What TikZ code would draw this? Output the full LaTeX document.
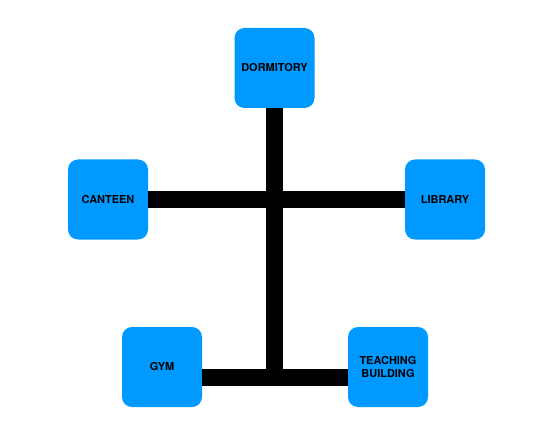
\documentclass[tikz,border=0pt]{standalone}
\usepackage{fontspec}
\setmainfont{TeX Gyre Heros}
\usepackage{tikz}
\usetikzlibrary{positioning}
\definecolor{placeblue}{RGB}{0,153,255}

\tikzset{
    place/.style={fill=placeblue, rounded corners=10bp, minimum width=80bp, minimum height=80bp,
        inner sep=0pt, align=center, font=\fontsize{11}{13.5}\selectfont\bfseries},
    road/.style={line width=17.5bp, black}
}

\begin{document}
\begin{tikzpicture}[x=1bp, y=-1bp]
    \useasboundingbox (0,0) rectangle (549,448);
    \node (dorm) [place] at (274.5,68) {DORMITORY};
    \node (canteen) [place] at (108,199.5) {CANTEEN};
    \node (library) [place] at (445,199.5) {LIBRARY};
    \node (gym) [place] at (162,367) {GYM};
    \node (teach) [place] at (388,367) {TEACHING\\BUILDING};
    % Junction of the lower road
    \coordinate (hub) at (274.5,377.5);
    \coordinate (base) at (274.5,386.25);
    % Roads
    \draw [road] (dorm.south) -- (base);
    \draw [road] (canteen.east) -- (library.west);
    \draw [road] (gym.east |- hub) -- (teach.west |- hub);
\end{tikzpicture}
\end{document}
